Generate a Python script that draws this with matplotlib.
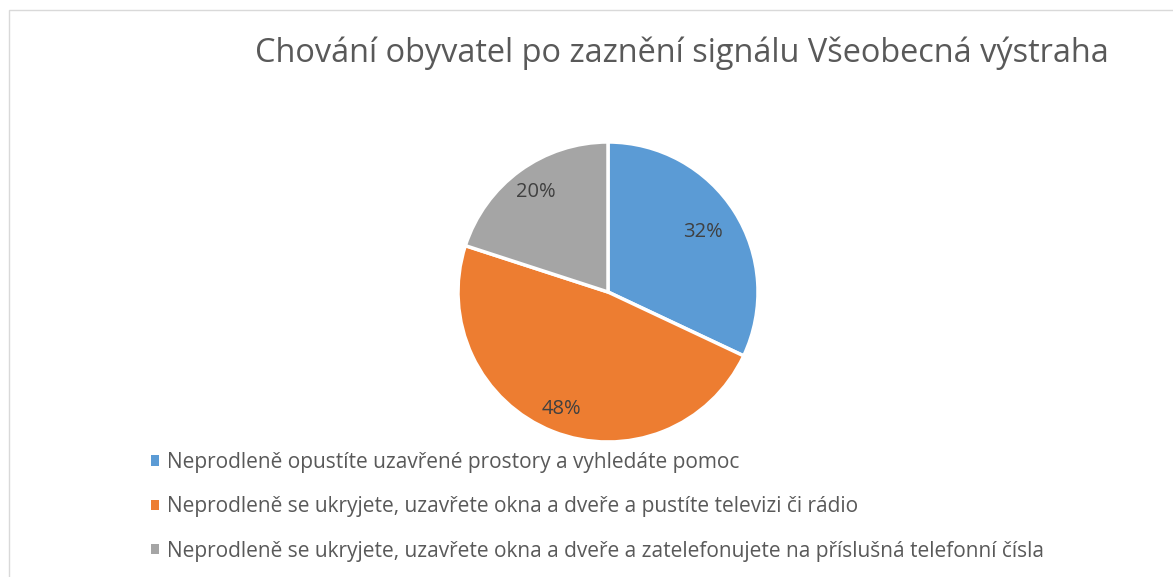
import matplotlib.pyplot as plt
from matplotlib.patches import Rectangle
import numpy as np

plt.rcParams['font.family'] = ['Open Sans', 'DejaVu Sans']

title = 'Chování obyvatel po zaznění signálu Všeobecná výstraha'
categories = [
    'Neprodleně opustíte uzavřené prostory a vyhledáte pomoc',
    'Neprodleně se ukryjete, uzavřete okna a dveře a pustíte televizi či rádio',
    'Neprodleně se ukryjete, uzavřete okna a dveře a zatelefonujete na příslušná telefonní čísla',
]
shares = [32, 48, 20]
colors = ['#5b9bd5', '#ed7d31', '#a5a5a5']
label_dist = [0.75, 0.84, 0.82]

W, H = 1173, 577
fig = plt.figure(figsize=(W / 100, H / 100), dpi=100)

# chart area frame (runs off the right and bottom edge)
fig.patches.append(Rectangle((9 / W, -0.1), 1.2, (H - 10) / H + 0.1,
                             transform=fig.transFigure, fill=False,
                             edgecolor='#d9d9d9', linewidth=1))

fig.text(682 / W, 1 - 53 / H, title, ha='center', va='center',
         fontsize=23.4, color='#595959')

# pie, centre (608, 292) radius 150 px
ax = fig.add_axes([458 / W, (H - 442) / H, 300 / W, 300 / H])
wedges, _ = ax.pie(shares, colors=colors, startangle=90, counterclock=False,
                   radius=1, wedgeprops=dict(edgecolor='white', linewidth=2.5))
for w, v, d in zip(wedges, shares, label_dist):
    ang = np.deg2rad((w.theta1 + w.theta2) / 2)
    ax.text(d * np.cos(ang), d * np.sin(ang), f'{v}%', ha='center', va='center',
            fontsize=14.5, color='#404040')
ax.set_xlim(-1, 1)
ax.set_ylim(-1, 1)
ax.set_aspect('equal')
ax.axis('off')

leg = fig.legend(wedges, categories, loc='upper left',
                 bbox_to_anchor=(151 / W, 1 - 452 / H), frameon=False,
                 fontsize=15, labelcolor='#595959',
                 handlelength=0.38, handleheight=0.38, handletextpad=0.4,
                 labelspacing=1.12, borderpad=0, borderaxespad=0)
for h in leg.legend_handles:
    h.set_edgecolor('none')

fig.savefig('out.png', dpi=100)
